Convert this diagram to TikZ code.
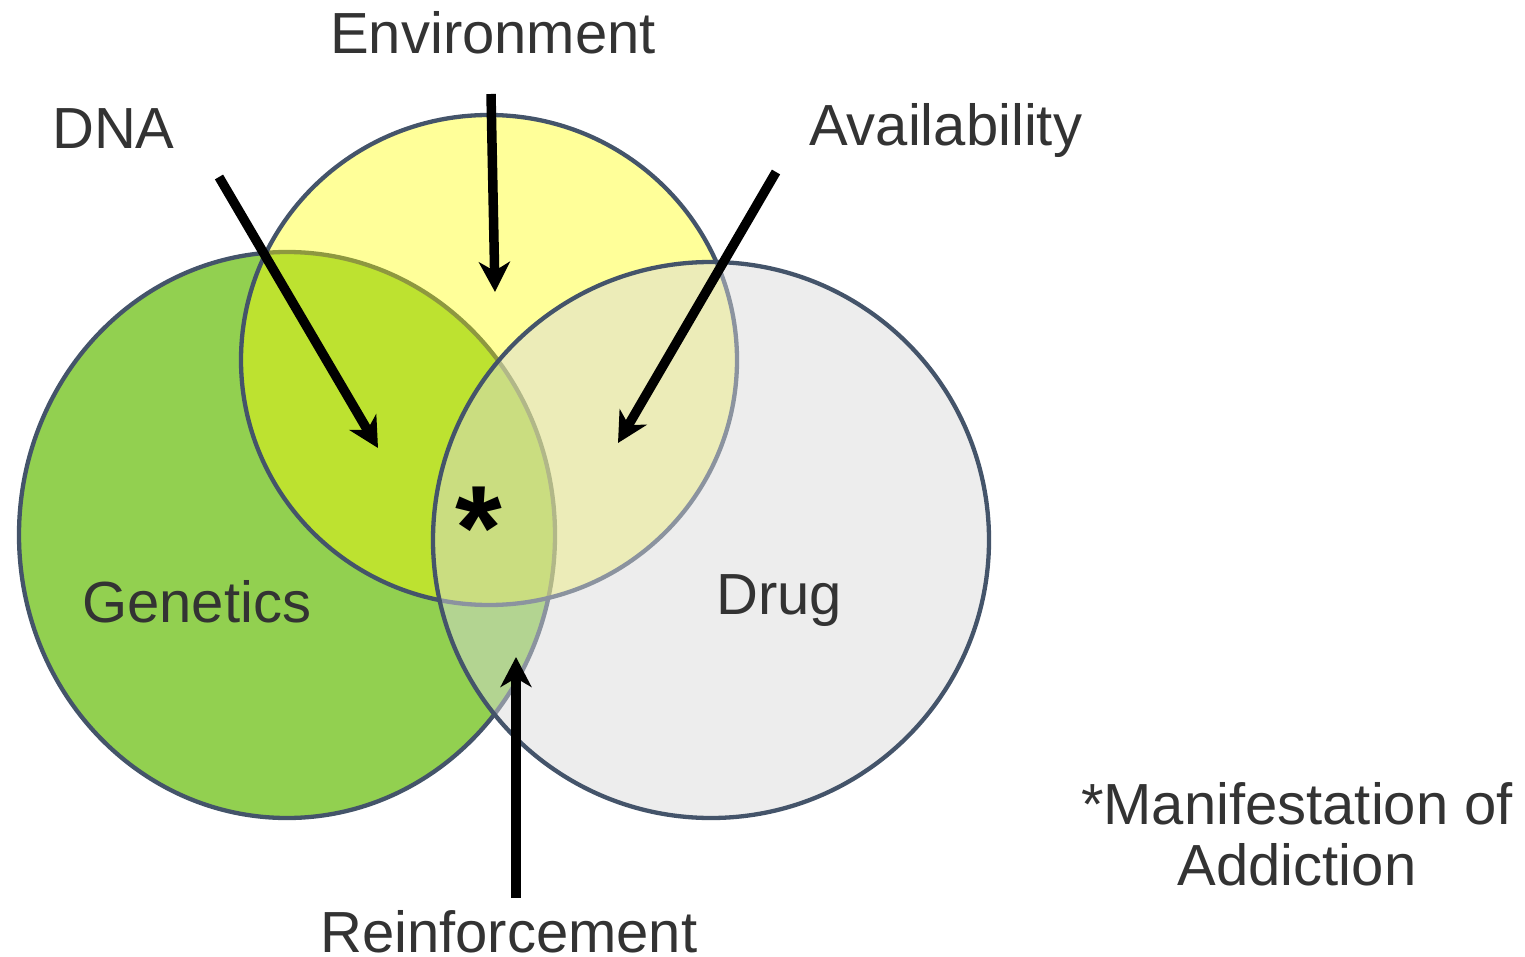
\documentclass[tikz,border=0pt]{standalone}
\usepackage{fontspec}
\setmainfont{Liberation Sans}
\usetikzlibrary{arrows.meta}
\definecolor{outl}{HTML}{44546A}
\definecolor{gfill}{HTML}{92D050}
\definecolor{yfill}{HTML}{FFFF00}
\definecolor{dfill}{HTML}{D9D9D9}
\definecolor{txt}{HTML}{333333}
\tikzset{
  venn/.style={draw=outl, line width=4.3pt},
  lbl/.style={inner sep=0pt, text=txt, font=\fontsize{58}{60}\selectfont, anchor=base west},
  bigarrow/.style={line width=9.5pt, draw=black, -{Stealth[length=30pt, width=31pt, inset=9pt]}}
}
\begin{document}
\begin{tikzpicture}[x=1pt,y=-1pt]
\useasboundingbox (0,0) rectangle (1525,957);
% circles
\draw[venn, fill=gfill] (287,535) ellipse [x radius=268, y radius=283];
\draw[venn, fill=yfill, fill opacity=0.4] (489,360) ellipse [x radius=248, y radius=245];
\draw[venn, fill=dfill, fill opacity=0.48] (711,540) ellipse [x radius=278, y radius=278];
% labels
\node[lbl] (env) at (330,54) {Environment};
\node[lbl] (dna) at (52,149) {DNA};
\node[lbl] (avail) at (809,146) {Availability};
\node[lbl] (gen) at (82,622) {Genetics};
\node[lbl] (drug) at (716,614) {Drug};
\node[lbl] (reinf) at (320,952) {Reinforcement};
\node[lbl, anchor=base] (man) at (1297,824) {*Manifestation of};
\node[lbl, anchor=base] (add) at (1297,885) {Addiction};
\node[inner sep=0pt, anchor=north, font=\fontsize{120}{120}\selectfont\bfseries] (star) at (479,487) {*};
% arrow end points
\coordinate (dnaS) at (219,177);
\coordinate (dnaE) at (378,448);
\coordinate (envS) at (491,94);
\coordinate (envE) at (495,292);
\coordinate (avS) at (776,172);
\coordinate (avE) at (618,443);
\coordinate (reS) at (516,898);
\coordinate (reE) at (516,657);
\draw[bigarrow] (dnaS) -- (dnaE);
\draw[bigarrow] (envS) -- (envE);
\draw[bigarrow] (avS) -- (avE);
\draw[bigarrow] (reS) -- (reE);
\end{tikzpicture}
\end{document}
